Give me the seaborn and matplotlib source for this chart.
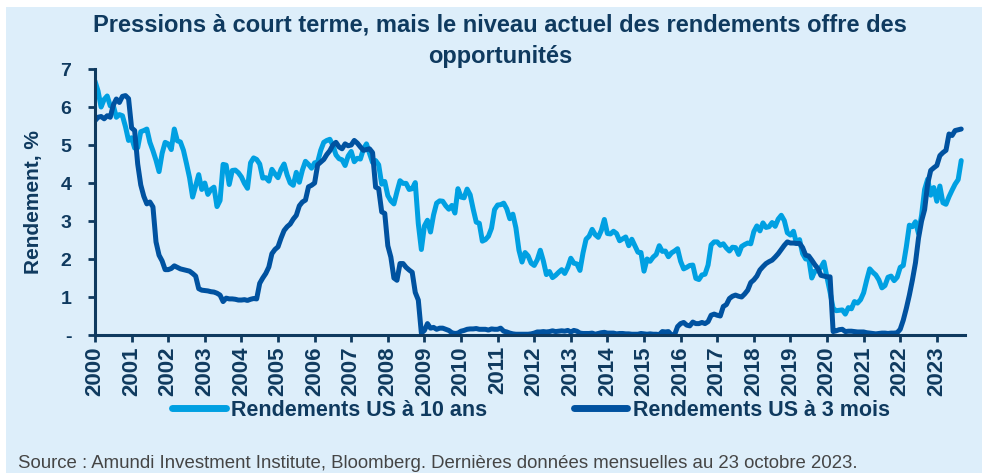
import numpy as np
import pandas as pd
import seaborn as sns
import matplotlib.pyplot as plt
from matplotlib.patches import Rectangle

# %%
# month-end yields in %, Jan 2000 -> Sep 2023
us_10y = [
    6.68, 6.42, 6.00, 6.20, 6.29, 6.03, 6.04, 5.73, 5.80, 5.77, 5.48, 5.12,  # 2000
    5.19, 4.92, 4.93, 5.35, 5.38, 5.42, 5.07, 4.85, 4.60, 4.30, 4.78, 5.07,  # 2001
    5.03, 4.88, 5.42, 5.11, 5.08, 4.86, 4.51, 4.14, 3.63, 3.93, 4.22, 3.83,  # 2002
    4.00, 3.70, 3.83, 3.89, 3.38, 3.54, 4.49, 4.47, 3.96, 4.33, 4.34, 4.27,  # 2003
    4.16, 3.99, 3.86, 4.53, 4.66, 4.62, 4.50, 4.13, 4.14, 4.05, 4.36, 4.24,  # 2004
    4.14, 4.36, 4.50, 4.21, 4.00, 3.94, 4.28, 4.02, 4.34, 4.57, 4.49, 4.39,  # 2005
    4.53, 4.55, 4.86, 5.07, 5.12, 5.15, 4.99, 4.74, 4.64, 4.61, 4.46, 4.71,  # 2006
    4.83, 4.56, 4.65, 4.63, 4.89, 5.03, 4.78, 4.54, 4.59, 4.48, 3.97, 4.04,  # 2007
    3.67, 3.53, 3.45, 3.77, 4.06, 3.99, 3.99, 3.83, 3.85, 4.01, 2.93, 2.25,  # 2008
    2.87, 3.02, 2.71, 3.16, 3.47, 3.53, 3.52, 3.40, 3.31, 3.41, 3.21, 3.85,  # 2009
    3.63, 3.61, 3.84, 3.69, 3.31, 2.97, 2.94, 2.47, 2.51, 2.60, 2.81, 3.30,  # 2010
    3.42, 3.43, 3.47, 3.32, 3.06, 3.18, 2.82, 2.23, 1.92, 2.17, 2.08, 1.89,  # 2011
    1.83, 1.98, 2.23, 1.95, 1.59, 1.67, 1.51, 1.57, 1.65, 1.72, 1.62, 1.78,  # 2012
    2.02, 1.89, 1.87, 1.70, 2.16, 2.52, 2.60, 2.78, 2.64, 2.57, 2.75, 3.04,  # 2013
    2.67, 2.66, 2.73, 2.67, 2.48, 2.53, 2.58, 2.35, 2.52, 2.35, 2.18, 2.17,  # 2014
    1.68, 2.00, 1.94, 2.05, 2.12, 2.35, 2.20, 2.21, 2.06, 2.16, 2.21, 2.27,  # 2015
    1.94, 1.74, 1.78, 1.83, 1.84, 1.49, 1.46, 1.58, 1.60, 1.84, 2.37, 2.45,  # 2016
    2.45, 2.36, 2.40, 2.29, 2.21, 2.31, 2.30, 2.12, 2.33, 2.38, 2.42, 2.40,  # 2017
    2.72, 2.87, 2.74, 2.95, 2.83, 2.85, 2.96, 2.86, 3.05, 3.15, 3.01, 2.69,  # 2018
    2.63, 2.73, 2.41, 2.51, 2.14, 2.00, 2.02, 1.50, 1.68, 1.69, 1.78, 1.92,  # 2019
    1.51, 1.13, 0.70, 0.64, 0.65, 0.66, 0.55, 0.72, 0.69, 0.88, 0.84, 0.93,  # 2020
    1.11, 1.44, 1.74, 1.65, 1.58, 1.45, 1.24, 1.30, 1.52, 1.55, 1.43, 1.52,  # 2021
    1.78, 1.83, 2.32, 2.89, 2.85, 2.98, 2.67, 3.15, 3.83, 4.10, 3.68, 3.88,  # 2022
    3.52, 3.92, 3.48, 3.44, 3.64, 3.81, 3.97, 4.09, 4.59,                    # 2023
]

us_3m = [
    5.64, 5.73, 5.75, 5.69, 5.77, 5.73, 6.05, 6.21, 6.12, 6.28, 6.30, 6.22,  # 2000
    5.45, 5.38, 4.50, 3.95, 3.65, 3.45, 3.50, 3.37, 2.45, 2.10, 1.95, 1.72,  # 2001
    1.72, 1.75, 1.82, 1.78, 1.74, 1.72, 1.70, 1.68, 1.62, 1.55, 1.22, 1.18,  # 2002
    1.17, 1.16, 1.14, 1.13, 1.10, 1.05, 0.88, 0.97, 0.95, 0.95, 0.94, 0.92,  # 2003
    0.92, 0.93, 0.91, 0.94, 0.96, 0.95, 1.36, 1.50, 1.62, 1.79, 2.14, 2.25,  # 2004
    2.32, 2.55, 2.75, 2.85, 2.92, 3.05, 3.15, 3.40, 3.50, 3.55, 3.90, 3.94,  # 2005
    4.00, 4.48, 4.55, 4.62, 4.75, 4.85, 5.00, 5.07, 4.95, 4.90, 5.03, 4.98,  # 2006
    5.00, 5.12, 5.05, 4.95, 4.86, 4.88, 4.90, 4.80, 3.89, 3.85, 3.24, 3.20,  # 2007
    2.35, 2.05, 1.50, 1.44, 1.88, 1.88, 1.78, 1.71, 1.65, 1.12, 0.92, 0.05,  # 2008
    0.12, 0.30, 0.18, 0.20, 0.15, 0.18, 0.18, 0.15, 0.12, 0.06, 0.04, 0.05,  # 2009
    0.10, 0.12, 0.15, 0.16, 0.16, 0.17, 0.15, 0.15, 0.15, 0.13, 0.16, 0.15,  # 2010
    0.15, 0.18, 0.10, 0.08, 0.05, 0.03, 0.02, 0.02, 0.02, 0.02, 0.02, 0.03,  # 2011
    0.05, 0.08, 0.08, 0.09, 0.08, 0.09, 0.11, 0.09, 0.10, 0.11, 0.10, 0.12,  # 2012
    0.08, 0.12, 0.10, 0.05, 0.04, 0.04, 0.04, 0.05, 0.02, 0.04, 0.06, 0.07,  # 2013
    0.05, 0.05, 0.05, 0.03, 0.04, 0.04, 0.03, 0.03, 0.02, 0.02, 0.02, 0.04,  # 2014
    0.03, 0.02, 0.03, 0.02, 0.02, 0.01, 0.09, 0.08, 0.09, 0.00, 0.00, 0.22,  # 2015
    0.30, 0.33, 0.26, 0.24, 0.34, 0.30, 0.30, 0.33, 0.30, 0.35, 0.52, 0.55,  # 2016
    0.52, 0.50, 0.75, 0.80, 0.96, 1.02, 1.05, 1.02, 1.00, 1.08, 1.18, 1.38,  # 2017
    1.45, 1.55, 1.71, 1.80, 1.88, 1.93, 1.97, 2.05, 2.14, 2.25, 2.36, 2.45,  # 2018
    2.42, 2.42, 2.41, 2.41, 2.30, 2.10, 2.08, 1.97, 1.85, 1.75, 1.57, 1.55,  # 2019
    1.53, 1.53, 0.09, 0.11, 0.14, 0.15, 0.09, 0.10, 0.10, 0.09, 0.08, 0.08,  # 2020
    0.08, 0.06, 0.05, 0.04, 0.03, 0.04, 0.05, 0.05, 0.04, 0.05, 0.05, 0.06,  # 2021
    0.15, 0.39, 0.70, 1.05, 1.45, 1.90, 2.55, 3.00, 3.30, 3.98, 4.33, 4.40,  # 2022
    4.46, 4.72, 4.80, 4.86, 5.29, 5.25, 5.38, 5.40, 5.42,                    # 2023
]

series_names = ["Rendements US à 10 ans", "Rendements US à 3 mois"]
year_ticks = list(range(2000, 2024))
y_ticks = [0, 1, 2, 3, 4, 5, 6, 7]
y_tick_labels = ["-", "1", "2", "3", "4", "5", "6", "7"]

title = ("Pressions à court terme, mais le niveau actuel des rendements offre des\n"
         "opportunités")
source = ("Source : Amundi Investment Institute, Bloomberg. "
          "Dernières données mensuelles au 23 octobre 2023.")

# %%
dates = pd.date_range("2000-01-31", periods=len(us_10y), freq="ME")
df = pd.DataFrame({series_names[0]: us_10y, series_names[1]: us_3m})
df["t"] = dates.year + (dates.month - 1) / 12
long_df = df.melt(id_vars="t", value_vars=series_names,
                  var_name="serie", value_name="rendement")

navy = "#0f3a5f"
panel = "#ddeefa"
palette = {series_names[0]: "#00a0e2", series_names[1]: "#0052a0"}

sns.set_theme(style="white")
plt.rcParams["font.family"] = ["Liberation Sans", "DejaVu Sans"]

fig = plt.figure(figsize=(9.82, 4.73), dpi=100, facecolor="white")
fig.patches.append(Rectangle((6 / 982, 0), 1, 466 / 473, transform=fig.transFigure,
                             facecolor=panel, edgecolor="none", zorder=-1))
ax = fig.add_axes([95 / 982, 138 / 473, 870 / 982, 266 / 473])
ax.set_facecolor("none")

sns.lineplot(data=long_df, x="t", y="rendement", hue="serie", palette=palette,
             linewidth=3.6, ax=ax)

ax.set_xlim(2000, 2023.77)
ax.set_ylim(0, 7)
ax.set_xticks(year_ticks)
ax.set_xticklabels([str(y) for y in year_ticks], rotation=90,
                   fontsize=16, fontweight="bold", color=navy)
ax.set_yticks(y_ticks)
ax.set_yticklabels(y_tick_labels, fontsize=14, fontweight="bold", color=navy)
ax.tick_params(axis="both", bottom=True, left=True, direction="out",
               length=5, width=2, color=navy)
ax.tick_params(axis="y", pad=12)
ax.tick_params(axis="x", pad=3)

for side in ["top", "right"]:
    ax.spines[side].set_visible(False)
for side in ["left", "bottom"]:
    ax.spines[side].set_color(navy)
    ax.spines[side].set_linewidth(2.2)

ax.set_xlabel("")
ax.set_ylabel("Rendement, %", fontsize=15, fontweight="bold", color=navy)
ax.yaxis.set_label_coords(-0.06, 0.5)

handles, labels = ax.get_legend_handles_labels()
ax.get_legend().remove()
leg = fig.legend(handles, labels, ncol=2, loc="center",
                 bbox_to_anchor=(531 / 982, 63 / 473), frameon=False,
                 handlelength=2.5, handletextpad=0.25, columnspacing=4.0,
                 prop={"weight": "bold", "size": 15.5})
for txt in leg.get_texts():
    txt.set_color(navy)
for line in leg.get_lines():
    line.set_linewidth(5)

fig.text(500 / 982, 1 - 41 / 473, title, ha="center", va="center",
         fontsize=17, fontweight="bold", color=navy, linespacing=1.45)
fig.text(18 / 982, 1 - 463 / 473, source, ha="left", va="center",
         fontsize=13.4, color="#454545")

fig.savefig("out.png", dpi=100, facecolor=fig.get_facecolor())
